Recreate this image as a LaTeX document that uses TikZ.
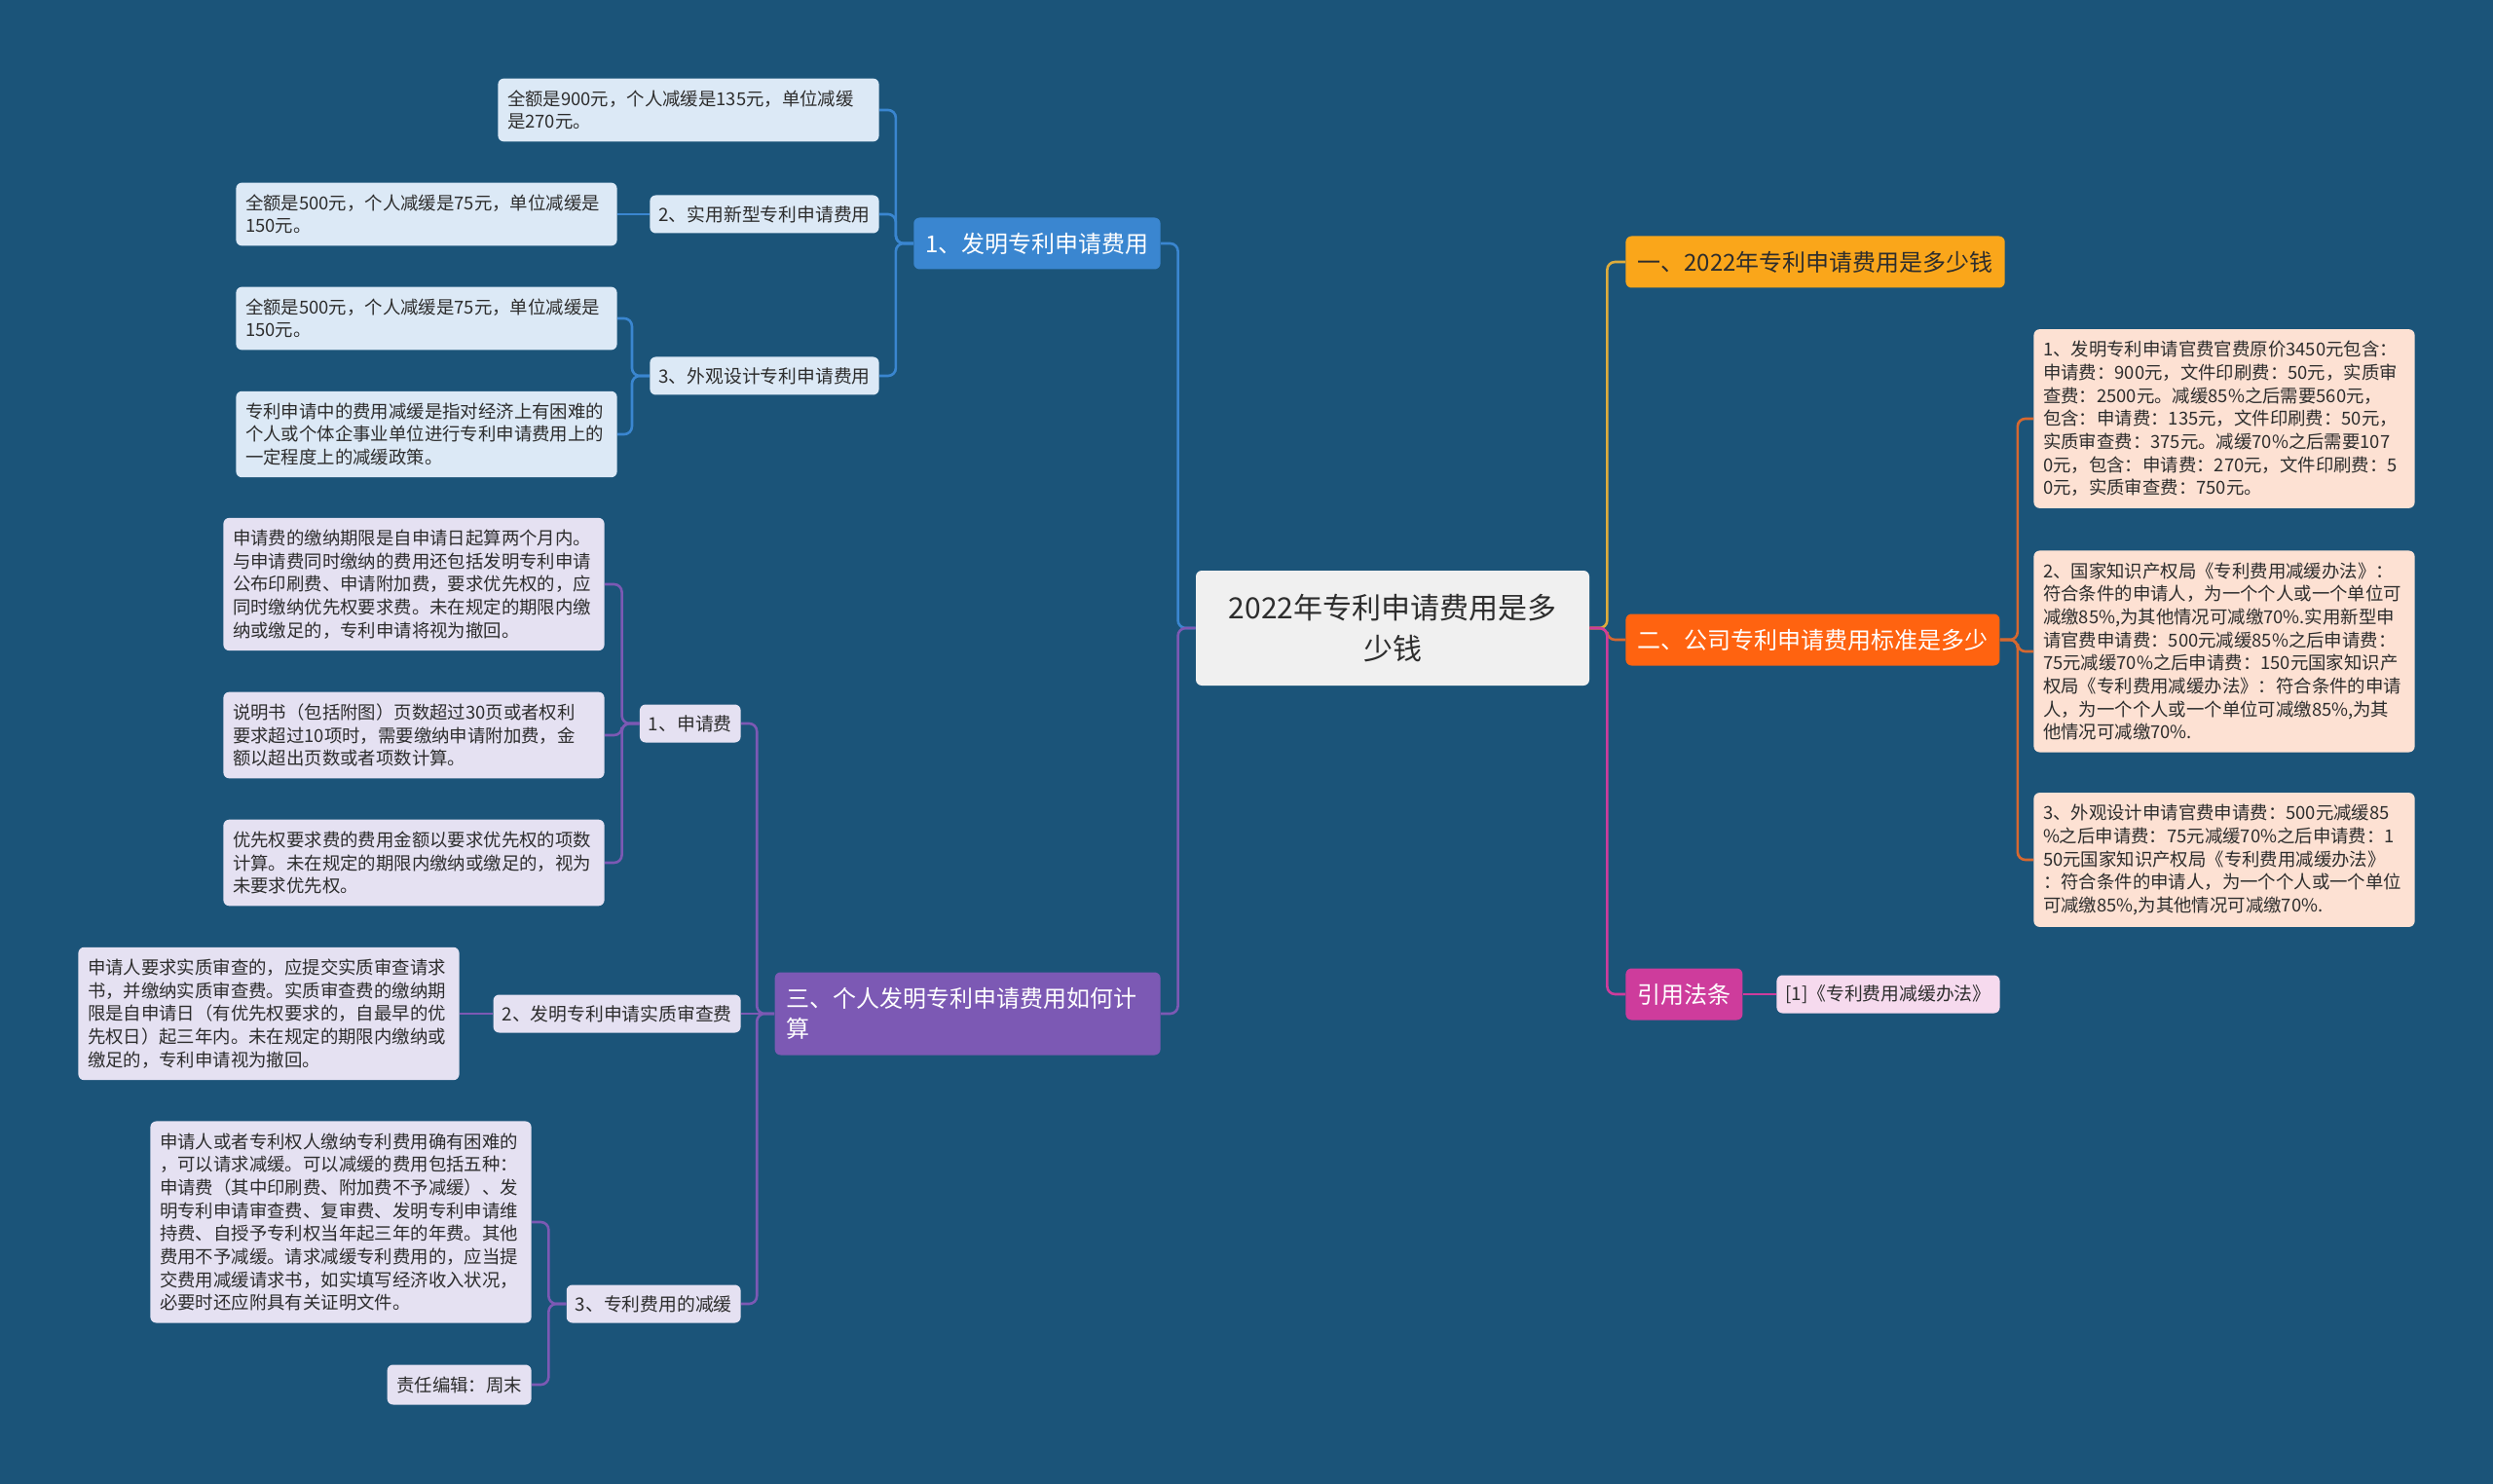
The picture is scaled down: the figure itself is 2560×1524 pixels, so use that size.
\documentclass[tikz,border=0pt]{standalone}
\usepackage{fontspec}
\setmainfont{Noto Sans CJK SC}
\definecolor{bgcol}{RGB}{27,84,121}
\definecolor{rootfill}{RGB}{240,240,240}
\definecolor{bluemain}{RGB}{58,134,208}
\definecolor{bluelight}{RGB}{220,233,246}
\definecolor{purplemain}{RGB}{124,89,180}
\definecolor{purplelight}{RGB}{229,225,242}
\definecolor{yellowmain}{RGB}{250,166,26}
\definecolor{yellowline}{RGB}{222,172,60}
\definecolor{orangemain}{RGB}{255,99,16}
\definecolor{orangeline}{RGB}{214,104,48}
\definecolor{peach}{RGB}{253,225,211}
\definecolor{pinkmain}{RGB}{206,60,156}
\definecolor{pinklight}{RGB}{246,218,238}
\definecolor{inkdark}{RGB}{45,45,45}
\tikzset{
  box/.style={rounded corners=3pt, text=inkdark},
  rootbox/.style={box, fill=rootfill, minimum width=202pt, minimum height=59pt, align=center, font=\fontsize{15}{21}\selectfont},
  mainbox/.style={box, inner xsep=6pt, minimum height=26.5pt, font=\fontsize{12}{15.5}\selectfont},
  subbox/.style={box, inner xsep=4.5pt, minimum height=19.5pt, font=\fontsize{9.4}{12}\selectfont},
  leafbox/.style={box, inner xsep=4.8pt, inner ysep=6pt, text width=186pt, align=left, font=\fontsize{9.2}{11.85}\selectfont},
  tagbox/.style={box, inner xsep=4.8pt, minimum height=20.5pt, font=\fontsize{9.2}{11.85}\selectfont},
  link/.style={line width=1.3pt, rounded corners=4pt}
}
\begin{document}
\begin{tikzpicture}[x=0.5pt, y=-0.5pt]
    \fill [bgcol] (0,0) rectangle (2560,1524);
    \node[rootbox] (root) at (1430,645) {2022年专利申请费用是多\\少钱};

    \node[mainbox, fill=yellowmain, anchor=west] (yi) at (1669,269) {一、2022年专利申请费用是多少钱};
    \node[mainbox, fill=orangemain, text=white, anchor=west] (er) at (1669,657) {二、公司专利申请费用标准是多少};
    \node[mainbox, fill=pinkmain, text=white, anchor=west] (yinyong) at (1669,1021) {引用法条};
    \node[subbox, fill=pinklight, anchor=west] (banfa) at (1824,1021) {[1]《专利费用减缓办法》};
    \node[leafbox, fill=peach, anchor=west] (erA) at (2088,430) {1、发明专利申请官费官费原价3450元包含：\\申请费：900元，文件印刷费：50元，实质审\\查费：2500元。减缓85\%之后需要560元，\\包含：申请费：135元，文件印刷费：50元，\\实质审查费：375元。减缓70\%之后需要107\\0元，包含：申请费：270元，文件印刷费：5\\0元，实质审查费：750元。};
    \node[leafbox, fill=peach, anchor=west] (erB) at (2088,669) {2、国家知识产权局《专利费用减缓办法》：\\符合条件的申请人，为一个个人或一个单位可\\减缴85\%,为其他情况可减缴70\%.实用新型申\\请官费申请费：500元减缓85\%之后申请费：\\75元减缓70\%之后申请费：150元国家知识产\\权局《专利费用减缓办法》：符合条件的申请\\人，为一个个人或一个单位可减缴85\%,为其\\他情况可减缴70\%.};
    \node[leafbox, fill=peach, anchor=west] (erC) at (2088,883) {3、外观设计申请官费申请费：500元减缓85\\\%之后申请费：75元减缓70\%之后申请费：1\\50元国家知识产权局《专利费用减缓办法》\\：符合条件的申请人，为一个个人或一个单位\\可减缴85\%,为其他情况可减缴70\%.};

    \node[mainbox, fill=bluemain, text=white, anchor=east] (faming) at (1192,250) {1、发明专利申请费用};
    \node[leafbox, fill=bluelight, anchor=east] (quan900) at (903,113) {全额是900元，个人减缓是135元，单位减缓\\是270元。};
    \node[subbox, fill=bluelight, anchor=east] (shiyong) at (903,220) {2、实用新型专利申请费用};
    \node[leafbox, fill=bluelight, anchor=east] (quan500a) at (634,220) {全额是500元，个人减缓是75元，单位减缓是\\150元。};
    \node[subbox, fill=bluelight, anchor=east] (waiguan) at (903,386) {3、外观设计专利申请费用};
    \node[leafbox, fill=bluelight, anchor=east] (quan500b) at (634,327) {全额是500元，个人减缓是75元，单位减缓是\\150元。};
    \node[leafbox, fill=bluelight, anchor=east] (jianhuan) at (634,446) {专利申请中的费用减缓是指对经济上有困难的\\个人或个体企事业单位进行专利申请费用上的\\一定程度上的减缓政策。};

    \node[mainbox, fill=purplemain, text=white, anchor=east, text width=186pt, align=left, minimum height=42.5pt] (geren) at (1192,1041) {三、个人发明专利申请费用如何计\\算};
    \node[subbox, fill=purplelight, anchor=east] (shenqing) at (761,743) {1、申请费};
    \node[leafbox, fill=purplelight, anchor=east] (qixian) at (621,600) {申请费的缴纳期限是自申请日起算两个月内。\\与申请费同时缴纳的费用还包括发明专利申请\\公布印刷费、申请附加费，要求优先权的，应\\同时缴纳优先权要求费。未在规定的期限内缴\\纳或缴足的，专利申请将视为撤回。};
    \node[leafbox, fill=purplelight, anchor=east] (shuoming) at (621,755) {说明书（包括附图）页数超过30页或者权利\\要求超过10项时，需要缴纳申请附加费，金\\额以超出页数或者项数计算。};
    \node[leafbox, fill=purplelight, anchor=east] (youxian) at (621,886) {优先权要求费的费用金额以要求优先权的项数\\计算。未在规定的期限内缴纳或缴足的，视为\\未要求优先权。};
    \node[subbox, fill=purplelight, anchor=east] (shizhi) at (761,1041) {2、发明专利申请实质审查费};
    \node[leafbox, fill=purplelight, anchor=east] (shencha) at (472,1041) {申请人要求实质审查的，应提交实质审查请求\\书，并缴纳实质审查费。实质审查费的缴纳期\\限是自申请日（有优先权要求的，自最早的优\\先权日）起三年内。未在规定的期限内缴纳或\\缴足的，专利申请视为撤回。};
    \node[subbox, fill=purplelight, anchor=east] (feiyong) at (761,1339) {3、专利费用的减缓};
    \node[leafbox, fill=purplelight, anchor=east] (kunnan) at (546,1255) {申请人或者专利权人缴纳专利费用确有困难的\\，可以请求减缓。可以减缓的费用包括五种：\\申请费（其中印刷费、附加费不予减缓）、发\\明专利申请审查费、复审费、发明专利申请维\\持费、自授予专利权当年起三年的年费。其他\\费用不予减缓。请求减缓专利费用的，应当提\\交费用减缓请求书，如实填写经济收入状况，\\必要时还应附具有关证明文件。};
    \node[tagbox, fill=purplelight, anchor=east] (bianji) at (546,1422) {责任编辑：周末};

    \draw[link, bluemain] (root.west) -- ++(-18,0) |- (faming.east);
    \draw[link, purplemain] (root.west) -- ++(-18,0) |- (geren.east);
    \draw[link, yellowline] (root.east) -- ++(18,0) |- (yi.west);
    \draw[link, orangeline] (root.east) -- ++(18,0) |- (er.west);
    \draw[link, pinkmain] (root.east) -- ++(18,0) |- (yinyong.west);
    \draw[link, pinkmain] (yinyong.east) -- (banfa.west);
    \draw[link, orangeline] (er.east) -- ++(18,0) |- (erA.west);
    \draw[link, orangeline] (er.east) -- ++(18,0) |- (erB.west);
    \draw[link, orangeline] (er.east) -- ++(18,0) |- (erC.west);

    \draw[link, bluemain] (faming.west) -- ++(-18,0) |- (quan900.east);
    \draw[link, bluemain] (faming.west) -- ++(-18,0) |- (shiyong.east);
    \draw[link, bluemain] (faming.west) -- ++(-18,0) |- (waiguan.east);
    \draw[link, bluemain] (shiyong.west) -- (quan500a.east);
    \draw[link, bluemain] (waiguan.west) -- ++(-18,0) |- (quan500b.east);
    \draw[link, bluemain] (waiguan.west) -- ++(-18,0) |- (jianhuan.east);

    \draw[link, purplemain] (geren.west) -- ++(-18,0) |- (shenqing.east);
    \draw[link, purplemain] (geren.west) -- (shizhi.east);
    \draw[link, purplemain] (geren.west) -- ++(-18,0) |- (feiyong.east);
    \draw[link, purplemain] (shenqing.west) -- ++(-18,0) |- (qixian.east);
    \draw[link, purplemain] (shenqing.west) -- ++(-18,0) |- (shuoming.east);
    \draw[link, purplemain] (shenqing.west) -- ++(-18,0) |- (youxian.east);
    \draw[link, purplemain] (shizhi.west) -- (shencha.east);
    \draw[link, purplemain] (feiyong.west) -- ++(-18,0) |- (kunnan.east);
    \draw[link, purplemain] (feiyong.west) -- ++(-18,0) |- (bianji.east);
\end{tikzpicture}
\end{document}
